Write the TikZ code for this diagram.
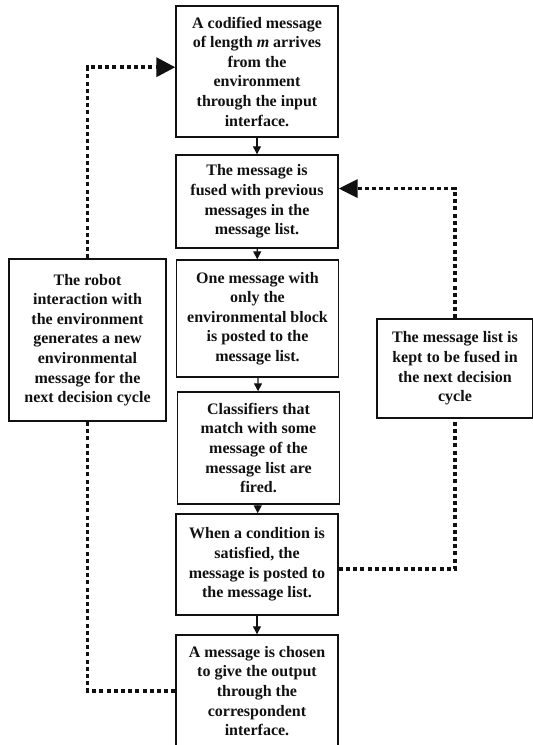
\documentclass[tikz,border=0pt]{standalone}
\usepackage{fontspec}
\setmainfont{Liberation Serif}
\usetikzlibrary{arrows.meta,positioning,calc}
\definecolor{Ink}{HTML}{111111}

\begin{document}
\begin{tikzpicture}[x=1pt,y=-1pt,
  stepbox/.style={draw=Ink,line width=1.4pt,minimum width=162pt,align=center,inner sep=0pt,
    text=Ink,font=\bfseries\fontsize{16}{19.6}\selectfont},
  sidebox/.style={stepbox,minimum width=157pt},
  flow/.style={-{Triangle[length=8pt,width=8pt]},Ink,line width=1.2pt},
  loopline/.style={Ink,line width=3.6pt,dash pattern=on 4pt off 3.2pt}]
\useasboundingbox (0,0) rectangle (533,745);
\node[stepbox,minimum height=131pt] (codified) at (257,71.5) {A codified message\\of length \textit{m} arrives\\from the\\environment\\through the input\\interface.};
\node[stepbox,minimum height=93pt] (fused) at (257,201.5) {The message is\\fused with previous\\messages in the\\message list.};
\node[stepbox,minimum height=117pt] (posted) at (257.5,318.5) {One message with\\only the\\environmental block\\is posted to the\\message list.};
\node[stepbox,minimum height=112pt] (fired) at (258.5,448) {Classifiers that\\match with some\\message of the\\message list are\\fired.};
\node[stepbox,minimum height=101pt] (satisfied) at (257,564.5) {When a condition is\\satisfied, the\\message is posted to\\the message list.};
\node[stepbox,minimum height=112pt] (chosen) at (257,691) {A message is chosen\\to give the output\\through the\\correspondent\\interface.};
\node[sidebox,minimum height=162pt] (robot) at (87.5,340) {The robot\\interaction with\\the environment\\generates a new\\environmental\\message for the\\next decision cycle};
\node[sidebox,minimum width=156pt,minimum height=99pt] (keep) at (455,368.5) {The message list is\\kept to be fused in\\the next decision\\cycle};
% main flow
\draw[flow] (codified) -- (fused);
\draw[flow] (fused) -- (posted);
\draw[flow] (posted) -- (fired);
\draw[flow] (fired) -- (satisfied);
\draw[flow] (satisfied) -- (chosen);
% feedback loops
\draw[loopline] (chosen.west) -| (robot.south);
\draw[loopline,-{Triangle[length=19pt,width=19pt]}] (robot.north) |- (codified.177);
\draw[loopline] (satisfied.357) -| (keep.south);
\draw[loopline,-{Triangle[length=19pt,width=18pt]}] (keep.north) |- (fused.9);
\end{tikzpicture}
\end{document}
